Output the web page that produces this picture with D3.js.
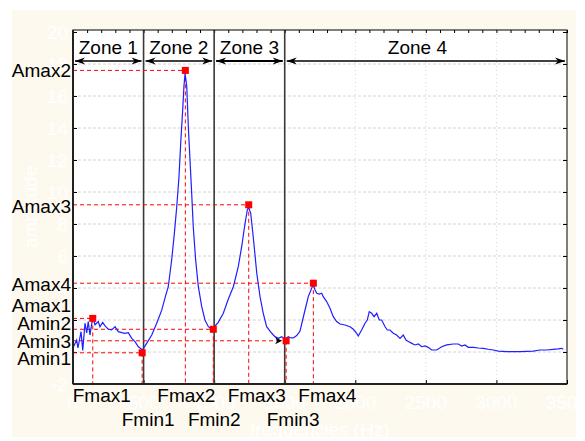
<!DOCTYPE html>
<html><head><meta charset="utf-8">
<script src="https://cdn.jsdelivr.net/npm/d3@7"></script>
<style>body{margin:0;background:#fff}svg{display:block}</style>
</head><body>
<script>
// ---- data ----
const freqs = [2,26,35,57,69,85,97,108,120,140,156,179,191,210,227,250,274,298,321,345,368,392,416,439,463,487,494,522,558,593,628,659,675,699,718,735,751,763,777,786,794,806,817,829,841,852,869,888,912,935,959,983,994,1029,1065,1100,1136,1171,1195,1219,1235,1245,1259,1277,1302,1325,1348,1372,1408,1431,1455,1479,1502,1525,1537,1561,1585,1608,1627,1644,1667,1691,1703,1715,1727,1745,1762,1773,1797,1821,1844,1868,1892,1927,1963,1986,2010,2021,2045,2069,2085,2099,2116,2133,2152,2170,2187,2211,2227,2246,2269,2293,2317,2340,2359,2376,2400,2423,2446,2471,2494,2517,2541,2577,2612,2648,2694,2730,2754,2777,2801,2836,2872,2907,2942,2978,3013,3073,3167,3261,3309,3356,3403,3438,3462,3474];
const amps = [0.3,0.75,0.25,1.27,0.1,1.8,1.2,1.9,1.06,2.15,1.7,1.9,1.58,1.85,1.63,1.42,1.38,1.58,1.27,1.21,1.17,1.21,0.85,0.65,0.33,0.17,0.15,0.54,1.06,1.8,2.6,3.6,4.08,5.75,7.4,9.08,10.96,13.04,15.1,16.6,17.4,16.6,14.1,12,9.9,7.83,5.75,4.08,2.83,2.0,1.58,1.42,1.5,1.85,2.42,3.3,4.08,5.33,6.58,8.04,8.875,9.04,8.67,7.2,4.92,3.46,2.42,1.58,1.17,0.96,0.85,0.96,0.79,0.96,0.9,0.88,1.03,1.3,2.0,2.625,3.46,3.98,4.2,3.875,3.67,3.625,3.67,3.46,3.15,2.73,2.21,1.9,1.75,1.69,1.58,1.42,1.17,1.0,1.375,1.8,2.0,2.52,2.42,2.21,2.42,2.0,2.0,1.58,1.375,1.375,1.17,1.06,0.85,1.06,0.75,0.65,0.54,0.44,0.5,0.33,0.375,0.29,0.125,0.125,0.33,0.44,0.5,0.5,0.375,0.44,0.29,0.29,0.25,0.23,0.17,0.125,0.06,0.02,0.02,0.06,0.125,0.125,0.17,0.19,0.23,0.17];

const xTicks = [0,500,1000,1500,2000,2500,3000,3500];
const yTicks = [-2,0,2,4,6,8,10,12,14,16,18,20];
const zoneBounds = [0,500,1000,1500,3500];
const zoneLabels = ["Zone 1","Zone 2","Zone 3","Zone 4"];
const zoneLabelFreq = [250,750,1250,2440];

const maxNames = ["Amax1","Amax2","Amax3","Amax4"];
const fmaxNames = ["Fmax1","Fmax2","Fmax3","Fmax4"];
const Fmax = [140,796,1245,1703];
const Amax = [2.1,17.6,9.2,4.3];
const minNames = ["Amin1","Amin2","Amin3"];
const fminNames = ["Fmin1","Fmin2","Fmin3"];
const Fmin = [490,994,1510];
const Amin = [-0.05,1.42,0.7];

// label layout offsets (px)
const maxLabelDy = [-13,0,1,1];
const minLabelDy = [5,-6,0];
const fmaxLabelDx = [9,1,8,14];
const fminLabelDx = [6,1,7];

// ---- drawing ----
const W=585,H=441;
const svg=d3.select("body").append("svg").attr("width",W).attr("height",H);
const FONT="'Liberation Sans', Arial, sans-serif";
svg.append("rect").attr("x",12).attr("y",10).attr("width",564).attr("height",427).attr("fill","#fdf9ee");

const L=73,R=567,T=30,B=384;
const x=d3.scaleLinear().domain([0,3500]).range([L,R]);
const y=d3.scaleLinear().domain([-2,20.125]).range([B,T]);

svg.append("rect").attr("x",L).attr("y",T).attr("width",R-L).attr("height",B-T).attr("fill","#fff");

// grid
const g=svg.append("g");
g.selectAll(".hg").data(yTicks.filter(v=>v>-2&&v<20)).join("line")
 .attr("x1",L).attr("x2",R).attr("y1",d=>y(d)).attr("y2",d=>y(d))
 .attr("stroke","#d4d4d4").attr("stroke-dasharray","3,2").attr("stroke-width",1);
g.selectAll(".vg").data(xTicks.filter(v=>v>0&&v<3500)).join("line")
 .attr("y1",T).attr("y2",B).attr("x1",d=>x(d)).attr("x2",d=>x(d))
 .attr("stroke","#d4d4d4").attr("stroke-dasharray","1,3").attr("stroke-width",1);

// inner ticks via axes
svg.append("g").attr("transform",`translate(${R},0)`).call(d3.axisRight(y).tickValues(yTicks).tickSize(-4).tickFormat(""))
 .call(s=>s.select(".domain").remove()).selectAll("line").attr("stroke","#000");
svg.append("g").attr("transform",`translate(${L},0)`).call(d3.axisLeft(y).tickValues(yTicks).tickSize(-4).tickFormat(""))
 .call(s=>s.select(".domain").remove()).selectAll("line").attr("stroke","#000");
svg.append("g").attr("transform",`translate(0,${T})`).call(d3.axisTop(x).tickValues(d3.range(0,3501,100)).tickSize(-3).tickFormat(""))
 .call(s=>s.select(".domain").remove()).selectAll("line").attr("stroke","#000");
svg.append("g").attr("transform",`translate(0,${B})`).call(d3.axisBottom(x).tickValues(xTicks).tickSize(-4).tickFormat(""))
 .call(s=>s.select(".domain").remove()).selectAll("line").attr("stroke","#000");

// white tick labels
svg.append("g").selectAll("text").data(yTicks).join("text")
 .attr("x",L-5).attr("y",d=>y(d)+7).attr("text-anchor","end")
 .attr("font-family",FONT).attr("font-size",19).attr("fill","#fff").text(d=>d);
svg.append("g").selectAll("text").data(xTicks).join("text")
 .attr("x",d=>x(d)).attr("y",409).attr("text-anchor","middle")
 .attr("font-family",FONT).attr("font-size",19).attr("fill","#fff").text(d=>d);
svg.append("text").attr("x",320).attr("y",436).attr("text-anchor","middle")
 .attr("font-family",FONT).attr("font-size",19).attr("fill","#fff").text("frequencies (Hz)");
svg.append("text").attr("transform","translate(37,207) rotate(-90)").attr("text-anchor","middle")
 .attr("font-family",FONT).attr("font-size",19).attr("fill","#fff").text("amplitude");

// zone lines
svg.append("g").selectAll("line").data(zoneBounds.slice(1,4)).join("line")
 .attr("x1",d=>x(d)).attr("x2",d=>x(d)).attr("y1",T).attr("y2",B)
 .attr("stroke","#3a3a3a").attr("stroke-width",1.6);

// red dashed reference lines
const red="#ff0000";
const refs=svg.append("g").attr("stroke",red).attr("stroke-width",1).attr("stroke-dasharray","4,3").attr("fill","none");
Fmax.forEach((f,i)=>{
  refs.append("line").attr("x1",L).attr("x2",x(f)).attr("y1",y(Amax[i])).attr("y2",y(Amax[i]));
  refs.append("line").attr("x1",x(f)).attr("x2",x(f)).attr("y1",y(Amax[i])).attr("y2",B);
});
Fmin.forEach((f,i)=>{
  refs.append("line").attr("x1",L).attr("x2",x(f)).attr("y1",y(Amin[i])).attr("y2",y(Amin[i]));
  refs.append("line").attr("x1",x(f)).attr("x2",x(f)).attr("y1",y(Amin[i])).attr("y2",B);
});

// curve
svg.append("path").datum(freqs.map((f,i)=>[f,amps[i]]))
 .attr("d",d3.line().x(d=>x(d[0])).y(d=>y(d[1])))
 .attr("fill","none").attr("stroke","#1f1fff").attr("stroke-width",1.2);

// markers
const pts=Fmax.map((f,i)=>[f,Amax[i]]).concat(Fmin.map((f,i)=>[f,Amin[i]]));
svg.append("g").selectAll("rect").data(pts).join("rect")
 .attr("x",d=>x(d[0])-3.5).attr("y",d=>y(d[1])-3.5).attr("width",7).attr("height",7).attr("fill",red);
// small black arrow tip on Amin3 line
{
 const tx=x(Fmin[2])-4, ty=y(Amin[2]);
 svg.append("path").attr("d",`M${tx},${ty} l-7,-3.5 l2,3.5 l-2,3.5 z`).attr("fill","#000");
}

// frame
svg.append("rect").attr("x",L).attr("y",T).attr("width",R-L).attr("height",B-T).attr("fill","none").attr("stroke","#000").attr("stroke-width",1);
svg.append("line").attr("x1",L).attr("x2",L).attr("y1",T).attr("y2",B).attr("stroke","#222").attr("stroke-width",2);
svg.append("line").attr("x1",L).attr("x2",R).attr("y1",B).attr("y2",B).attr("stroke","#222").attr("stroke-width",2);

// zone arrows
const ay=61;
const za=svg.append("g");
function head(px,dir){ // dir=+1 tip pointing right, -1 pointing left
  za.append("path").attr("d",`M${px},${ay} l${-dir*10},-3.5 l${dir*3},3.5 l${-dir*3},3.5 z`).attr("fill","#000");
}
zoneBounds.slice(0,4).forEach((s,i)=>{
  const e=zoneBounds[i+1];
  za.append("line").attr("x1",x(s)+2).attr("x2",x(e)-2).attr("y1",ay).attr("y2",ay)
    .attr("stroke","#000").attr("stroke-width",i===2?2:1.3);
  head(x(s)+2,-1); head(x(e)-2,1);
});
za.selectAll("text").data(zoneLabels).join("text")
 .attr("x",(d,i)=>x(zoneLabelFreq[i])).attr("y",54).attr("text-anchor","middle")
 .attr("font-family",FONT).attr("font-size",19).attr("fill","#000").text(d=>d);

// amplitude labels
const lab=svg.append("g").attr("font-family",FONT).attr("font-size",19).attr("fill","#000");
maxNames.forEach((n,i)=>lab.append("text").attr("x",71).attr("y",y(Amax[i])+maxLabelDy[i]+7).attr("text-anchor","end").text(n));
minNames.forEach((n,i)=>lab.append("text").attr("x",71).attr("y",y(Amin[i])+minLabelDy[i]+7).attr("text-anchor","end").text(n));
// frequency labels
fmaxNames.forEach((n,i)=>lab.append("text").attr("x",x(Fmax[i])+fmaxLabelDx[i]).attr("y",402).attr("text-anchor","middle").text(n));
fminNames.forEach((n,i)=>lab.append("text").attr("x",x(Fmin[i])+fminLabelDx[i]).attr("y",426).attr("text-anchor","middle").text(n));
</script>
</body></html>
